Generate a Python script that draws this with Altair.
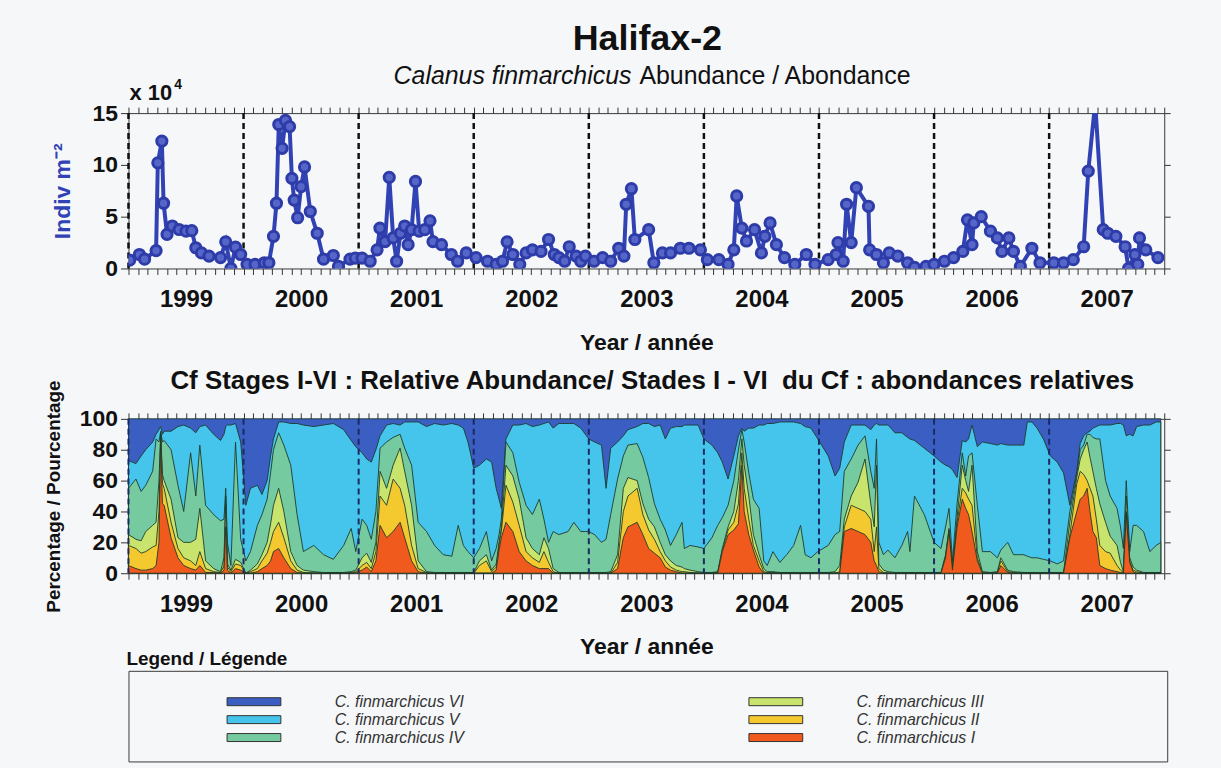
import altair as alt
import pandas as pd

FONT = "Liberation Sans"
INK = "#111111"
BLUE = "#3142b4"
EDGE = "#1e3a2c"
PAGE = "#f6f7f9"

# ---------------- Calanus finmarchicus abundance (x 10^4 indiv m^-2) ----------------
abund_year = [
    1999.01, 1999.095, 1999.14, 1999.24, 1999.255, 1999.29, 1999.305, 1999.335, 1999.38, 1999.44,
    1999.50, 1999.55, 1999.585, 1999.634, 1999.70, 1999.80, 1999.845, 1999.89, 1999.93, 1999.975,
    2000.03, 2000.10, 2000.18, 2000.22, 2000.26, 2000.286, 2000.306, 2000.335, 2000.364, 2000.40,
    2000.42, 2000.44, 2000.47, 2000.50, 2000.53, 2000.58, 2000.64, 2000.695, 2000.78, 2000.825,
    2000.925, 2000.97,
    2001.03, 2001.10, 2001.16, 2001.185, 2001.23, 2001.266, 2001.30, 2001.33, 2001.364, 2001.40,
    2001.43, 2001.46, 2001.494, 2001.526, 2001.575, 2001.62, 2001.646, 2001.72, 2001.805, 2001.86,
    2001.935,
    2002.02, 2002.12, 2002.195, 2002.25, 2002.29, 2002.34, 2002.40, 2002.455, 2002.51, 2002.585,
    2002.65, 2002.70, 2002.74, 2002.79, 2002.83, 2002.89, 2002.93, 2002.97,
    2003.045, 2003.12, 2003.19, 2003.26, 2003.305, 2003.325, 2003.37, 2003.40, 2003.52, 2003.565,
    2003.64, 2003.71, 2003.795, 2003.87, 2003.97,
    2004.03, 2004.13, 2004.21, 2004.26, 2004.285, 2004.33, 2004.37, 2004.44, 2004.50, 2004.53,
    2004.575, 2004.63, 2004.70, 2004.79, 2004.89, 2004.965,
    2005.08, 2005.15, 2005.165, 2005.21, 2005.24, 2005.28, 2005.325, 2005.43, 2005.44, 2005.50,
    2005.56, 2005.61, 2005.685, 2005.77, 2005.83, 2005.93,
    2006.00, 2006.09, 2006.17, 2006.25, 2006.29, 2006.33, 2006.345, 2006.41, 2006.49, 2006.55,
    2006.59, 2006.65, 2006.69, 2006.75, 2006.85, 2006.92,
    2007.04, 2007.125, 2007.21, 2007.30, 2007.34, 2007.40, 2007.47, 2007.51, 2007.58, 2007.66,
    2007.69, 2007.745, 2007.77, 2007.785, 2007.84, 2007.945,
]
abund_value = [
    0.8, 1.35, 0.9, 1.73, 10.2, 12.3, 6.3, 3.3, 4.1, 3.76,
    3.6, 3.65, 2.0, 1.5, 1.2, 1.05, 2.57, 0.0, 2.06, 1.35,
    0.4, 0.4, 0.55, 0.55, 3.1, 6.3, 13.9, 11.6, 14.3, 13.7,
    8.7, 6.6, 4.9, 7.9, 9.8, 5.5, 3.4, 0.9, 1.25, 0.2,
    0.9, 1.0,
    1.0, 0.7, 1.8, 3.9, 2.6, 8.8, 2.95, 0.7, 3.4, 4.1,
    2.3, 3.75, 8.4, 3.6, 3.75, 4.6, 2.6, 2.3, 1.35, 0.7,
    1.5,
    1.05, 0.7, 0.4, 0.7, 2.57, 1.35, 0.4, 1.5, 1.8, 1.65,
    2.8, 1.35, 1.05, 0.7, 2.1, 1.2, 0.7, 1.2,
    0.7, 1.05, 0.7, 1.95, 1.2, 6.2, 7.7, 2.8, 3.75, 0.55,
    1.5, 1.5, 1.95, 1.95, 1.8,
    0.85, 0.85, 0.4, 1.8, 7.0, 3.9, 2.65, 3.75, 1.5, 3.1,
    4.4, 2.3, 1.05, 0.4, 1.35, 0.4,
    0.85, 1.35, 2.5, 0.7, 6.2, 2.5, 7.8, 6.0, 1.8, 1.35,
    0.55, 1.5, 1.2, 0.55, 0.1, 0.2,
    0.4, 0.7, 1.05, 1.65, 4.7, 2.3, 4.4, 5.0, 3.6, 2.95,
    1.65, 2.95, 1.65, 0.2, 1.95, 0.55,
    0.55, 0.55, 0.85, 2.1, 9.4, 16.0, 3.75, 3.4, 3.1, 2.1,
    0.0, 1.35, 0.4, 2.95, 1.8, 1.05,
]

# ---------------- Stages I-VI: cumulative relative abundance (%) ----------------
stage_year = [
    1999.00, 1999.065, 1999.11, 1999.15, 1999.21, 1999.24, 1999.265, 1999.28, 1999.295, 1999.31,
    1999.37, 1999.43, 1999.48, 1999.54, 1999.585, 1999.62, 1999.67, 1999.74, 1999.80, 1999.83,
    1999.845, 1999.86, 1999.89, 1999.93, 1999.975,
    2000.02, 2000.06, 2000.12, 2000.16, 2000.205, 2000.235, 2000.26, 2000.305, 2000.35, 2000.41,
    2000.465, 2000.52, 2000.61, 2000.695, 2000.78, 2000.87, 2000.935, 2000.975,
    2001.03, 2001.07, 2001.11, 2001.15, 2001.186, 2001.243, 2001.30, 2001.36, 2001.40, 2001.46,
    2001.517, 2001.59, 2001.66, 2001.735, 2001.81, 2001.865, 2001.91, 2001.95,
    2002.00, 2002.05, 2002.11, 2002.155, 2002.195, 2002.22, 2002.24, 2002.28, 2002.34, 2002.395,
    2002.455, 2002.51, 2002.57, 2002.61, 2002.65, 2002.69, 2002.74, 2002.82, 2002.87, 2002.93,
    2002.97,
    2003.00, 2003.05, 2003.11, 2003.15, 2003.19, 2003.25, 2003.30, 2003.34, 2003.42, 2003.47,
    2003.52, 2003.57, 2003.62, 2003.665, 2003.71, 2003.76, 2003.81, 2003.83, 2003.88, 2003.95,
    2004.00, 2004.07, 2004.12, 2004.16, 2004.21, 2004.26, 2004.30, 2004.33, 2004.35, 2004.39,
    2004.43, 2004.48, 2004.52, 2004.55, 2004.60, 2004.66, 2004.72, 2004.78, 2004.84, 2004.88,
    2004.93, 2004.99,
    2005.08, 2005.14, 2005.18, 2005.22, 2005.28, 2005.34, 2005.40, 2005.45, 2005.48, 2005.50,
    2005.52, 2005.56, 2005.60, 2005.66, 2005.72, 2005.77, 2005.79, 2005.83, 2005.915,
    2006.00, 2006.06, 2006.10, 2006.13, 2006.16, 2006.20, 2006.245, 2006.275, 2006.30, 2006.33,
    2006.376, 2006.42, 2006.49, 2006.55, 2006.58, 2006.64, 2006.69, 2006.78, 2006.81, 2006.85,
    2006.895, 2006.95,
    2007.01, 2007.07, 2007.125, 2007.18, 2007.24, 2007.27, 2007.30, 2007.33, 2007.355, 2007.38,
    2007.41, 2007.44, 2007.49, 2007.53, 2007.59, 2007.62, 2007.645, 2007.67, 2007.70, 2007.73,
    2007.76, 2007.82, 2007.875, 2007.93, 2007.97,
]
# top of stage I
cum_I = [
    5, 3, 2, 2, 3, 5, 20, 88, 45, 44, 23, 10, 5, 3, 2, 5, 0.5, 0.5, 0, 2, 30, 2, 0, 3, 2,
    0, 0, 1, 3, 5, 8, 14, 16, 10, 3, 0.5, 0, 0, 0, 0, 0, 0, 0.5,
    2, 4, 1, 8, 31, 23, 27, 33, 23, 8, 1, 0, 0, 0, 0, 0, 0, 0,
    0, 0, 0, 0, 2, 15, 23, 33, 27, 14, 8, 5, 3, 3, 3, 0, 0, 0, 0, 0, 0,
    0, 0, 0, 0, 0, 3, 23, 30, 33, 25, 16, 13, 10, 4, 2, 1, 0, 0, 0, 0,
    0, 0, 0, 14, 25, 28, 32, 70, 40, 25, 15, 4, 0, 0, 0, 0, 0, 0, 0, 0, 0, 0,
    0, 0, 0, 27, 29, 27, 25, 20, 8, 5, 1, 0, 0, 0, 0, 0, 0, 0, 0,
    0, 0, 10, 27, 2, 30, 48, 42, 38, 27, 8, 0, 0, 0, 5, 0.5, 0, 0, 0, 0, 0, 0,
    0, 0, 0, 23, 40, 48, 50, 55, 40, 27, 23, 5, 3, 2, 1, 0.5, 0, 38, 7, 1, 0, 0, 0, 0, 0,
]
# top of stages I+II
cum_I_II = [
    18, 16, 13, 14, 17, 18, 40, 90, 58, 55, 33, 16, 10, 8, 5, 14, 3, 1, 0.5, 5, 45, 4, 1, 6, 5,
    0, 1, 3, 8, 13, 20, 27, 33, 23, 8, 2, 0.5, 0, 0, 0, 0, 0.5, 1,
    5, 7, 3, 14, 50, 44, 61, 55, 44, 18, 3, 0.5, 0, 0, 0, 0, 0, 0,
    0, 5, 8, 1, 4, 18, 27, 57, 46, 31, 14, 10, 7, 14, 7, 1, 0, 0, 0, 0, 0,
    0, 0, 0, 0, 0, 7, 40, 50, 55, 38, 28, 22, 14, 8, 4, 2, 1, 1, 0.5, 0,
    0, 0, 0.5, 15, 28, 33, 45, 78, 55, 35, 18, 8, 1, 0.5, 0.5, 0, 0, 0, 0, 0, 0, 0,
    0, 0, 1, 30, 44, 42, 40, 35, 14, 30, 3, 0.5, 0, 0, 0, 0, 0, 0, 0,
    0, 0, 11, 28, 3, 33, 55, 52, 48, 44, 10, 0.5, 0, 0.5, 8, 1, 0.5, 0, 0, 0, 0, 0,
    0, 0, 0, 25, 58, 66, 64, 60, 55, 50, 35, 18, 14, 13, 5, 2, 0.5, 40, 8, 2, 1, 0, 0, 0, 0,
]
# top of stages I-III
cum_I_III = [
    25, 22, 21, 27, 31, 33, 60, 91, 64, 60, 48, 23, 20, 20, 22, 42, 8, 3, 1, 10, 50, 6, 2, 9, 7,
    0, 2, 6, 12, 20, 32, 44, 55, 40, 14, 5, 2, 1, 0.5, 0.5, 0.5, 1, 2,
    10, 13, 7, 20, 66, 55, 70, 81, 66, 44, 8, 1, 0.5, 0.5, 0.5, 0.5, 0.5, 0.5,
    0.5, 8, 12, 2, 6, 20, 29, 70, 63, 48, 23, 16, 12, 23, 16, 3, 0.5, 0.5, 0.5, 0.5, 0.5,
    0.5, 0.5, 0.5, 0.5, 1, 12, 55, 62, 60, 45, 35, 30, 20, 12, 8, 5, 4, 3, 2, 1,
    0.5, 0.5, 1, 16, 30, 40, 60, 87, 70, 50, 25, 12, 3, 1, 1, 0.5, 0.5, 0.5, 0.5, 0.5, 0.5, 0.5,
    0.5, 1, 5, 35, 50, 59, 74, 45, 30, 70, 6, 2, 1, 0.5, 0.5, 0.5, 0.5, 0.5, 0.5,
    0.5, 0.5, 12, 29, 3, 36, 70, 60, 53, 70, 14, 1, 0.5, 1, 10, 2, 1, 0.5, 0.5, 0.5, 0.5, 0.5,
    0.5, 0.5, 0.5, 33, 62, 74, 80, 85, 75, 66, 55, 45, 33, 24, 18, 7, 1, 50, 10, 4, 2, 0.5, 0.5, 0.5, 0.5,
]
# top of stages I-IV
cum_I_IV = [
    55, 61, 53, 57, 66, 87, 85, 92, 85, 86, 80, 57, 40, 78, 50, 83, 44, 38, 34, 35, 55, 20, 5, 85, 22,
    8, 14, 31, 38, 48, 65, 80, 91, 83, 70, 38, 14, 18, 12, 9, 18, 29, 14,
    35, 31, 22, 40, 81, 85, 88, 90, 81, 70, 33, 27, 18, 12, 11, 31, 18, 14,
    10, 16, 27, 8, 16, 25, 35, 85, 78, 59, 44, 38, 48, 35, 20, 27, 25, 27, 33, 27, 27,
    27, 25, 20, 22, 38, 61, 76, 83, 84, 75, 62, 45, 35, 28, 18, 25, 33, 16, 18, 17,
    16, 23, 31, 36, 44, 60, 80, 93, 85, 65, 48, 42, 8, 5, 14, 7, 12, 18, 31, 12, 10, 14,
    18, 25, 27, 66, 74, 83, 89, 66, 55, 87, 20, 12, 15, 10, 18, 27, 14, 50, 38,
    20, 16, 30, 42, 8, 45, 78, 63, 76, 78, 44, 14, 14, 10, 15, 20, 12, 12, 11, 10, 10, 9,
    8, 6, 8, 40, 64, 80, 83, 90, 90, 88, 87, 87, 60, 50, 42, 30, 16, 60, 14, 31, 31, 27, 14, 18, 20,
]
# top of stages I-V (stage VI fills the rest up to 100 %)
cum_I_V = [
    73, 71, 76, 80, 85, 90, 93, 95, 90, 92, 92, 95, 96, 94, 91, 95, 96, 90, 86, 90, 95, 96, 96, 97, 85,
    44, 55, 57, 51, 60, 76, 87, 98, 98, 97, 97, 96, 95, 96, 97, 93, 86, 82,
    78, 74, 72, 80, 89, 96, 97, 96, 98, 98, 98, 95, 97, 96, 97, 96, 94, 85,
    68, 70, 74, 72, 55, 48, 42, 87, 96, 96, 97, 95, 96, 97, 98, 94, 97, 97, 97, 94, 90,
    87, 85, 83, 55, 81, 85, 89, 93, 95, 97, 97, 95, 96, 87, 94, 95, 95, 96, 96, 96,
    87, 83, 78, 72, 61, 76, 89, 94, 92, 94, 94, 96, 96, 97, 97, 98, 98, 98, 97, 95, 94, 87,
    76, 63, 68, 85, 96, 96, 96, 93, 96, 97, 96, 96, 96, 91, 91, 88, 87, 86, 81,
    76, 72, 70, 69, 67, 62, 86, 85, 87, 96, 82, 85, 84, 83, 84, 83, 83, 83, 98, 98, 94, 87,
    76, 72, 65, 44, 66, 84, 89, 91, 92, 94, 95, 96, 96, 96, 97, 97, 96, 89, 90, 89, 95, 96, 96, 98, 98,
]

stage_names = [
    "C. finmarchicus VI", "C. finmarchicus V", "C. finmarchicus IV",
    "C. finmarchicus III", "C. finmarchicus II", "C. finmarchicus I",
]
stage_colors = ["#3b5ec2", "#45c4ec", "#76caa0", "#c9e46c", "#f4c92f", "#f05a1c"]

year_bounds = [1999, 2000, 2001, 2002, 2003, 2004, 2005, 2006, 2007]

# monthly ticks; the year name sits on the mid-year tick
month_ticks = [1999 + k / 12 for k in range(109)]
mid_year = "abs(datum.value - floor(datum.value) - 0.5) < 0.01"
year_label = f"{mid_year} ? '' + floor(datum.value) : ''"

W = 1040
H_TOP = 156
H_BOT = 155
x_scale = alt.Scale(domain=[1999, 2008], nice=False, zero=False)


def bottom_axis():
    return alt.Axis(
        values=month_ticks, labelExpr=year_label, tickSize=6, labelPadding=13,
        labelFontSize=24, labelFontWeight="bold", labelOverlap=False, labelFlush=False,
        title="Year / année", titleFontSize=23, titleFontWeight="bold", titlePadding=20,
    )


def top_axis():
    return alt.Axis(orient="top", values=month_ticks, labels=False, tickSize=6, title=None)


def right_axis(vals):
    return alt.Axis(orient="right", values=vals, labels=False, tickSize=6, title=None)


def text_chart(text, x, y, size, weight="bold", style="normal", align="center", color=INK):
    return alt.Chart(pd.DataFrame({"t": [text]})).mark_text(
        font=FONT, fontSize=size, fontWeight=weight, fontStyle=style,
        align=align, baseline="alphabetic", color=color,
    ).encode(text="t:N", x=alt.value(x), y=alt.value(y))


# ---------------- upper panel: abundance ----------------
abund_df = pd.DataFrame({"year": abund_year, "abund": abund_value})
bounds_df = pd.DataFrame({"year": year_bounds})
y_abund = alt.Scale(domain=[0, 15], nice=False)

year_rules = alt.Chart(bounds_df).mark_rule(
    color="#111111", strokeDash=[6, 4], strokeWidth=2.5
).encode(x=alt.X("year:Q", scale=x_scale, axis=top_axis()))

abund_line = alt.Chart(abund_df).mark_line(
    color=BLUE, strokeWidth=4, clip=True
).encode(
    x=alt.X("year:Q", scale=x_scale, axis=bottom_axis()),
    y=alt.Y("abund:Q", scale=y_abund, axis=alt.Axis(
        values=[0, 5, 10, 15], tickSize=8, labelPadding=3, labelFontSize=23,
        labelFontWeight="bold", title="Indiv m⁻²", titleColor=BLUE, titleFontSize=23,
        titleFontWeight="bold", titlePadding=18,
    )),
)

abund_pts = alt.Chart(abund_df).mark_point(
    shape="circle", size=105, filled=True, fill="#5666c8", stroke="#2d3ca8",
    strokeWidth=3, opacity=1, clip=True
).encode(
    x=alt.X("year:Q", scale=x_scale, axis=None),
    y=alt.Y("abund:Q", scale=y_abund, axis=right_axis([0, 5, 10, 15])),
)

# keeps a clear band between the axis title and the next panel's heading
gap_band = alt.Chart(pd.DataFrame({"k": [0]})).mark_rule(
    color=PAGE, strokeWidth=1
).encode(x=alt.value(0), y=alt.value(H_TOP + 88), y2=alt.value(H_TOP + 98))

top = alt.layer(
    year_rules, abund_line, abund_pts, gap_band,
    text_chart("Halifax-2", 521, -63, 36),
    text_chart("Calanus finmarchicus", 505, -29, 25, style="italic", weight="normal", align="right"),
    text_chart("Abundance / Abondance", 513, -29, 25, weight="normal", align="left"),
    text_chart("x 10", 1, -13, 22, align="left"),
    text_chart("4", 46, -24, 14, align="left"),
).resolve_axis(x="independent", y="independent").properties(width=W, height=H_TOP)

# ---------------- lower panel: stage composition ----------------
stage_df = pd.DataFrame({
    "year": stage_year, "c1": cum_I, "c2": cum_I_II, "c3": cum_I_III,
    "c4": cum_I_IV, "c5": cum_I_V,
})
stage_df["c6"] = 100.0
y_pct = alt.Scale(domain=[0, 100], nice=False)

area_layers = []
for i, (field, color) in enumerate(zip(["c6", "c5", "c4", "c3", "c2", "c1"], stage_colors)):
    if i == 0:
        xa, ya = bottom_axis(), alt.Axis(
            values=[0, 20, 40, 60, 80, 100], tickSize=8, labelPadding=3, labelFontSize=23,
            labelFontWeight="bold", title="Percentage / Pourcentage", titleFontSize=19,
            titleFontWeight="bold", titlePadding=16,
        )
    elif i == 1:
        xa, ya = top_axis(), right_axis([0, 20, 40, 60, 80, 100])
    else:
        xa, ya = None, None
    area_layers.append(
        alt.Chart(stage_df).mark_area(
            fill=color, stroke=EDGE, strokeWidth=0.9, fillOpacity=1, interpolate="linear"
        ).encode(
            x=alt.X("year:Q", scale=x_scale, axis=xa),
            y=alt.Y(f"{field}:Q", scale=y_pct, axis=ya),
        )
    )

stage_rules = alt.Chart(bounds_df).mark_rule(
    color="#1b2a63", strokeDash=[6, 4], strokeWidth=2
).encode(x=alt.X("year:Q", scale=x_scale, axis=None))

bottom = alt.layer(
    *area_layers, stage_rules,
    text_chart("Cf Stages I-VI : Relative Abundance/ Stades I - VI \u00a0du Cf : abondances relatives",
               526, -30, 26),
    text_chart("Legend / Légende", -2, H_BOT + 92, 19, align="left"),
).resolve_axis(
    x="independent", y="independent"
).properties(width=W, height=H_BOT)

# ---------------- legend box ----------------
legend_df = pd.DataFrame({
    "name": stage_names, "col": [0, 0, 0, 1, 1, 1], "row": [0, 1, 2, 0, 1, 2],
})
lx = alt.X("col:Q", scale=alt.Scale(domain=[0, 1], range=[126, 650]), axis=None)
ly = alt.Y("row:Q", scale=alt.Scale(domain=[0, 2], range=[31, 67]), axis=None)

swatches = alt.Chart(legend_df).mark_tick(
    orient="horizontal", size=54, thickness=8, stroke="#333333", strokeWidth=1, opacity=1
).encode(
    x=lx, y=ly,
    color=alt.Color("name:N", scale=alt.Scale(domain=stage_names, range=stage_colors), legend=None),
)
names = alt.Chart(legend_df).mark_text(
    align="left", baseline="middle", dx=81, font=FONT, fontSize=16,
    fontStyle="italic", color="#333333"
).encode(x=lx, y=ly, text="name:N")

legend = alt.layer(swatches, names).properties(width=1043, height=91)

chart = alt.vconcat(top, bottom, legend, spacing=0).properties(
    background=PAGE,
    padding={"left": 44, "top": 19, "right": 50, "bottom": 4},
).configure_view(
    stroke="#3a3a3a", strokeWidth=1
).configure_axis(
    labelFont=FONT, titleFont=FONT, labelColor=INK, titleColor=INK,
    tickColor="#333333", domain=False, grid=False,
)

chart.save("out.html", embed_options={"renderer": "svg", "actions": False})
